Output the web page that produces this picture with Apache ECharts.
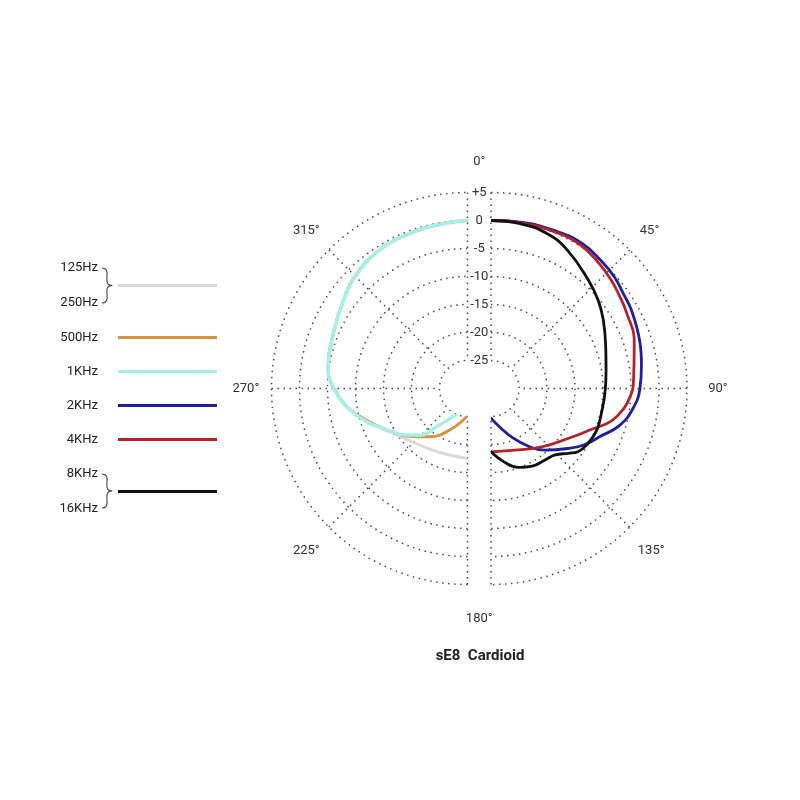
<!DOCTYPE html>
<html><head><meta charset="utf-8">
<script src="https://cdn.jsdelivr.net/npm/echarts@6/dist/echarts.min.js"></script>
<style>html,body{margin:0;padding:0;background:#fff}#c{width:800px;height:800px}</style>
</head><body><div id="c"></div>
<script>
// ---- data ----
const seriesNames = ['125Hz/250Hz', '500Hz', '1KHz', '2KHz', '4KHz', '8KHz/16KHz'];
const seriesColors = ['#d9d9d9', '#d39445', '#a6efe7', '#1f1f99', '#b0232a', '#111111'];
const radiusTicks = [-25, -20, -15, -10, -5, 0, 5];
const angleTicks = [0, 45, 90, 135, 180, 225, 270, 315];

// left half (low frequencies): angle in degrees, level in dB
const grey_angle = [360, 349.3, 337.1, 328, 316.1, 305.5, 292.4, 277.6, 269.4, 261.4, 253.2, 242.8, 236.7, 219.9, 200.5, 180];
const grey_db    = [0, -0.3, -0.5, -0.7, -1.5, -2.8, -4.1, -4.9, -6.3, -8.2, -10.6, -13.6, -14.9, -16.8, -17.6, -17.5];
const orange_angle = [360, 349.3, 337.1, 328, 316.1, 305.5, 292.4, 277.6, 269.4, 261.4, 255.3, 242.8, 228.4, 217.9, 202.9, 181.6];
const orange_db    = [0, -0.3, -0.5, -0.7, -1.5, -2.8, -4.1, -4.9, -6.3, -8.2, -10.2, -13.8, -17.1, -19.1, -22.0, -25.0];
const cyan_angle = [360, 349.3, 337.1, 328, 316.1, 305.5, 292.4, 277.6, 269.4, 261.4, 253.2, 242.8, 232.6, 225.6, 218.9, 200.4];
const cyan_db    = [0, -0.3, -0.5, -0.7, -1.5, -2.8, -4.1, -4.9, -6.3, -8.2, -10.6, -13.8, -16.3, -18.1, -21.2, -25.3];

// right half (high frequencies)
const blue_angle = [0, 10, 22, 32, 41, 48, 54, 61, 72, 81, 90, 98, 106, 114, 121, 128, 139, 147, 157, 167, 180];
const blue_db    = [0, 0.15, 0.4, 0.6, 0.1, -0.3, -0.9, -1.3, -2.1, -2.8, -3.4, -4.4, -6.1, -8.8, -10.5, -12.6, -15.4, -17.7, -20.6, -22.9, -24.7];
const red_angle = [0, 10, 22, 32, 41, 48, 54, 60, 72, 89, 93.5, 98, 105, 112, 123, 139, 156, 180];
const red_db    = [0, 0.05, 0.2, 0.2, -0.5, -1.1, -1.7, -2.2, -3.1, -4.6, -5.15, -5.9, -7.7, -10.6, -13.6, -16.2, -18.0, -18.7];
const black_angle = [0, 10, 20, 29, 42, 50.5, 58.6, 70, 81, 91, 102.6, 111.5, 119.4, 126, 130, 136, 143, 152, 161, 170, 180];
const black_db    = [0, -0.1, -0.6, -1.8, -4.0, -5.2, -6.5, -8.2, -9.2, -9.6, -9.8, -9.7, -10.1, -10.8, -12.0, -13.5, -14.0, -14.3, -15.1, -16.7, -18.7];

// ---- chart ----
const font = 'Roboto';
const dotted = { color: '#4a4a4a', width: 1.5, type: [1.5, 4.5] };
const rMin = radiusTicks[0], rMax = radiusTicks[radiusTicks.length - 1], rStep = radiusTicks[1] - radiusTicks[0];
const CY = 388.5, R = [28, 196];

function gridRadius(i) {
  return { polarIndex: i, type: 'value', min: rMin, max: rMax, interval: rStep,
    axisLine: { show: false }, axisTick: { show: false }, axisLabel: { show: false },
    splitLine: { show: true, lineStyle: dotted } };
}
function mk(name, idx, angles, dbs, color, width) {
  return { name: name, type: 'line', coordinateSystem: 'polar', polarIndex: idx,
    data: angles.map((a, i) => [dbs[i], a]), smooth: 0.45, showSymbol: false, symbol: 'none',
    clip: false, silent: true, lineStyle: { color: color, width: width, cap: 'round' },
    itemStyle: { color: color } };
}
function brace(top, bottom) {
  const m = (top + bottom) / 2;
  return { type: 'polyline', silent: true,
    shape: { points: [[102, top], [105.5, top + 1], [107, top + 4], [107, m - 4], [108.5, m - 1], [112, m],
                      [108.5, m + 1], [107, m + 4], [107, bottom - 4], [105.5, bottom - 1], [102, bottom]], smooth: 0.3 },
    style: { fill: null, stroke: '#444', lineWidth: 1.1 } };
}
const lbl = { color: '#333', fontSize: 13, fontFamily: font };
const angleRich = {
  p90: Object.assign({ padding: [0, 0, 0, 9] }, lbl),
  up_r: Object.assign({ padding: [0, 0, 0, 5], lineHeight: 5 }, lbl),
  dn_r: Object.assign({ padding: [0, 0, 0, 3] }, lbl),
  up_l: Object.assign({ padding: [0, 4, 0, 0], lineHeight: 5 }, lbl),
  dn_l: Object.assign({ padding: [0, 4, 0, 0] }, lbl),
  p180: Object.assign({ padding: [4, 0, 0, 0] }, lbl)
};
const angleStyleKey = { 90: 'p90', 45: 'up_r', 135: 'dn_r', 315: 'up_l', 225: 'dn_l', 180: 'p180' };

const chart = echarts.init(document.getElementById('c'), null, { renderer: 'canvas' });
chart.setOption({
  animation: false,
  backgroundColor: '#fff',
  title: { text: 'sE8  Cardioid', left: 480, top: 649, textAlign: 'center', padding: 0,
    textStyle: { fontSize: 15, fontWeight: 'bold', color: '#222', fontFamily: font } },
  legend: {
    orient: 'vertical', right: 583, top: 250.5, padding: 0, itemGap: 0, align: 'right',
    itemWidth: 99, itemHeight: 3, icon: 'rect', selectedMode: false,
    data: seriesNames,
    formatter: n => n.indexOf('/') >= 0 ? n.split('/').map(s => '{d|' + s + '}').join('\n') : n,
    textStyle: { fontSize: 13, color: '#222', fontFamily: font, lineHeight: 34, padding: [0, 15, 0, 0],
      rich: { d: { fontSize: 13, color: '#222', fontFamily: font, lineHeight: 35 } } }
  },
  graphic: [ brace(268, 303), brace(474, 508) ],
  polar: [
    { center: [467.5, CY], radius: R },
    { center: [491, CY], radius: R },
    { center: [479.25, CY], radius: R }
  ],
  angleAxis: [
    { polarIndex: 0, type: 'value', min: 180, max: 360, interval: 45, startAngle: 270, endAngle: 90, clockwise: true,
      axisLine: { show: false }, axisTick: { show: false }, axisLabel: { show: false },
      splitLine: { show: true, lineStyle: dotted } },
    { polarIndex: 1, type: 'value', min: 0, max: 180, interval: 45, startAngle: 90, endAngle: -90, clockwise: true,
      axisLine: { show: false }, axisTick: { show: false }, axisLabel: { show: false },
      splitLine: { show: true, lineStyle: dotted } },
    { polarIndex: 2, type: 'value', min: 0, max: 360, interval: 45, startAngle: 90, clockwise: true,
      axisLine: { show: false }, axisTick: { show: false }, splitLine: { show: false },
      axisLabel: Object.assign({ margin: 24, rich: angleRich,
        formatter: v => angleTicks.indexOf(v) < 0 ? '' : (angleStyleKey[v] ? '{' + angleStyleKey[v] + '|' + v + '°}' : v + '°') }, lbl) }
  ],
  radiusAxis: [
    gridRadius(0),
    gridRadius(1),
    { polarIndex: 2, type: 'value', min: rMin, max: rMax, interval: rStep,
      axisLine: { show: false }, axisTick: { show: false }, splitLine: { show: false },
      axisLabel: Object.assign({ show: true, margin: 0, align: 'center', verticalAlign: 'middle',
        formatter: v => v > 0 ? '+' + v : String(v) }, lbl) }
  ],
  series: [
    mk(seriesNames[0], 0, grey_angle, grey_db, seriesColors[0], 3),
    mk(seriesNames[1], 0, orange_angle, orange_db, seriesColors[1], 3),
    mk(seriesNames[2], 0, cyan_angle, cyan_db, seriesColors[2], 3.5),
    mk(seriesNames[3], 1, blue_angle, blue_db, seriesColors[3], 2.8),
    mk(seriesNames[4], 1, red_angle, red_db, seriesColors[4], 2.8),
    mk(seriesNames[5], 1, black_angle, black_db, seriesColors[5], 2.8)
  ]
});
</script>
</body></html>
